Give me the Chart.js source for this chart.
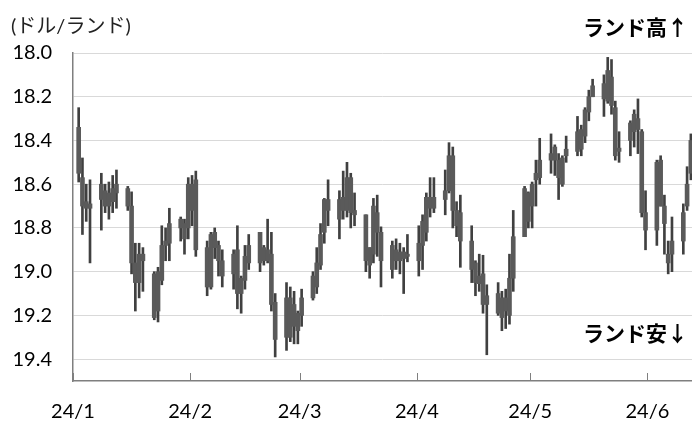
<!DOCTYPE html>
<html>
<head>
<meta charset="utf-8">
<script src="https://cdn.jsdelivr.net/npm/chart.js@4.4.1/dist/chart.umd.min.js"></script>
<style>
  body { margin: 0; background: #fff; }
  #wrap { position: relative; width: 692px; height: 424px; }
  .note { position: absolute; font-family: "Noto Sans CJK JP", sans-serif; line-height: 1; color: #000; white-space: nowrap; }
  #title { left: 11px; top: 15px; font-size: 20px; color: #222; font-family: Lato, "Noto Sans CJK JP", sans-serif; }
  #up { right: 4px; top: 16px; font-size: 21px; font-weight: bold; }
  #down { right: 4px; top: 322px; font-size: 21px; font-weight: bold; }
</style>
</head>
<body>
<div id="wrap">
  <canvas id="fxChart"></canvas>
  <div class="note" id="title">(ドル/ランド)</div>
  <div class="note" id="up">ランド高↑</div>
  <div class="note" id="down">ランド安↓</div>
</div>
<script>
// daily USD/ZAR, 2024 (month/day)
const dates = [
  "1/2","1/3","1/4","1/5","1/8","1/9","1/10","1/11","1/12","1/15","1/16","1/17","1/18","1/19","1/22","1/23","1/24","1/25","1/26","1/29","1/30","1/31",
  "2/1","2/2","2/5","2/6","2/7","2/8","2/9","2/12","2/13","2/14","2/15","2/16","2/19","2/20","2/21","2/22","2/23","2/26","2/27","2/28","2/29",
  "3/1","3/4","3/5","3/6","3/7","3/8","3/11","3/12","3/13","3/14","3/15","3/18","3/19","3/20","3/21","3/22","3/25","3/26","3/27","3/28","3/29",
  "4/1","4/2","4/3","4/4","4/5","4/8","4/9","4/10","4/11","4/12","4/15","4/16","4/17","4/18","4/19","4/22","4/23","4/24","4/25","4/26","4/29","4/30",
  "5/1","5/2","5/3","5/6","5/7","5/8","5/9","5/10","5/13","5/14","5/15","5/16","5/17","5/20","5/21","5/22","5/23","5/24","5/27","5/28","5/29","5/30","5/31",
  "6/3","6/4","6/5","6/6","6/7","6/10","6/11","6/12"
];
const lows = [
  18.25,18.48,18.60,18.58,18.55,18.60,18.59,18.56,18.535,18.61,18.635,18.87,18.87,18.89,19.00,18.98,18.79,18.80,18.71,18.75,18.76,18.57,
  18.56,18.54,18.86,18.82,18.80,18.86,18.90,18.90,18.79,19.02,18.88,18.83,18.82,18.88,18.76,18.82,19.10,19.05,19.07,19.09,19.18,
  19.08,19.00,18.89,18.78,18.665,18.58,18.63,18.54,18.50,18.55,18.64,18.74,18.89,18.665,18.65,18.795,18.86,18.85,18.87,18.89,18.83,
  18.79,18.74,18.64,18.57,18.57,18.535,18.41,18.43,18.68,18.65,18.79,18.95,18.92,18.925,19.06,19.05,19.09,19.08,18.92,18.72,18.61,18.635,
  18.59,18.49,18.39,18.37,18.42,18.46,18.47,18.38,18.29,18.33,18.25,18.17,18.12,18.10,18.02,18.03,18.22,18.36,18.31,18.26,18.21,18.35,18.63,
  18.49,18.47,18.65,18.86,18.75,18.69,18.52,18.37
];
const highs = [
  18.59,18.83,18.77,18.96,18.81,18.73,18.76,18.73,18.71,18.72,19.01,19.18,19.12,19.09,19.22,19.23,19.06,18.95,18.95,18.86,18.92,18.85,
  18.79,18.93,19.11,19.08,18.94,19.02,19.07,19.08,19.17,19.19,19.08,18.99,19.00,18.97,18.96,19.18,19.39,19.36,19.32,19.33,19.33,
  19.25,19.13,19.10,18.99,18.87,18.79,18.85,18.76,18.75,18.80,18.79,19.00,19.03,18.96,18.93,19.07,19.03,18.99,19.01,19.10,18.955,
  19.02,18.99,18.86,18.75,18.73,18.74,18.64,18.80,18.84,18.98,19.05,19.11,19.09,19.19,19.38,19.20,19.27,19.26,19.24,19.09,18.84,18.80,
  18.80,18.70,18.60,18.55,18.56,18.67,18.61,18.50,18.47,18.47,18.41,18.31,18.20,18.29,18.23,18.28,18.49,18.50,18.47,18.43,18.46,18.75,18.90,
  18.88,18.70,18.92,19.01,19.00,18.92,18.72,18.58
];
const opens = [
  18.34,18.57,18.68,18.69,18.60,18.63,18.64,18.62,18.60,18.62,18.70,18.96,18.92,18.92,19.01,19.00,18.88,18.86,18.78,18.76,18.78,18.60,
  18.60,18.58,18.89,18.83,18.82,18.88,18.95,18.92,18.90,19.03,18.93,18.88,18.82,18.89,18.90,18.92,19.14,19.12,19.12,19.15,19.19,
  19.12,19.02,18.96,18.83,18.67,18.67,18.67,18.66,18.57,18.57,18.72,18.74,18.89,18.70,18.73,18.82,18.88,18.90,18.91,18.91,18.92,
  18.87,18.77,18.66,18.66,18.66,18.63,18.47,18.47,18.72,18.73,18.86,18.96,19.02,19.01,19.11,19.10,19.12,19.12,19.03,18.84,18.62,18.64,
  18.60,18.55,18.49,18.46,18.43,18.49,18.48,18.44,18.36,18.35,18.26,18.20,18.15,18.14,18.08,18.11,18.25,18.435,18.32,18.28,18.30,18.36,18.73,
  18.50,18.49,18.70,18.92,18.86,18.73,18.60,18.40
];
const closes = [
  18.55,18.70,18.71,18.71,18.67,18.70,18.70,18.68,18.64,18.70,18.96,19.05,19.05,18.95,19.21,19.18,19.04,18.88,18.87,18.80,18.85,18.80,
  18.72,18.90,19.07,19.07,18.89,18.95,19.02,19.01,19.10,19.10,19.04,18.96,18.96,18.95,18.95,19.15,19.31,19.30,19.30,19.25,19.27,
  19.20,19.12,19.07,18.97,18.82,18.72,18.76,18.72,18.72,18.73,18.74,18.95,18.97,18.92,18.82,18.95,18.99,18.95,18.95,18.94,18.93,
  18.95,18.88,18.82,18.71,18.71,18.67,18.63,18.72,18.79,18.86,18.99,19.05,19.055,19.15,19.15,19.19,19.21,19.18,19.20,19.03,18.84,18.77,
  18.70,18.58,18.57,18.49,18.49,18.57,18.60,18.47,18.45,18.44,18.38,18.27,18.20,18.21,18.22,18.24,18.47,18.45,18.40,18.36,18.35,18.73,18.81,
  18.81,18.70,18.78,18.96,18.92,18.86,18.70,18.55
];
const monthStarts = [0, 31, 60, 91, 121, 152];
const tickLabels = ["24/1", "24/2", "24/3", "24/4", "24/5", "24/6"];
const yTicks = [18.0, 18.2, 18.4, 18.6, 18.8, 19.0, 19.2, 19.4];

function dayOf(s) {
  const [m, d] = s.split("/").map(Number);
  return monthStarts[m - 1] + d - 1 + 0.5;
}

const wickData = dates.map((s, i) => ({ x: dayOf(s), y: [lows[i], highs[i]] }));
const bodyData = dates.map((s, i) => ({ x: dayOf(s), y: [opens[i], closes[i]] }));

const innerTicks = {
  id: "innerTicks",
  afterDraw(chart) {
    const xs = chart.scales.x, ctx = chart.ctx;
    ctx.save();
    ctx.strokeStyle = "#7f7f7f";
    ctx.lineWidth = 1;
    monthStarts.forEach(v => {
      const px = Math.round(xs.getPixelForValue(v)) + 0.5;
      ctx.beginPath();
      ctx.moveTo(px, xs.top);
      ctx.lineTo(px, xs.top - 8);
      ctx.stroke();
    });
    ctx.restore();
  }
};

const font = { family: "Lato, 'Liberation Sans', sans-serif", size: 20 };

new Chart(document.getElementById("fxChart").getContext("2d"), {
  type: "bar",
  data: {
    datasets: [
      { data: wickData, backgroundColor: "#404040", barThickness: 2, grouped: false, order: 2 },
      { data: bodyData, backgroundColor: "#5a5a5a", barThickness: 4, grouped: false, order: 1 }
    ]
  },
  options: {
    responsive: true,
    maintainAspectRatio: false,
    animation: false,
    layout: { padding: { left: 0, right: 0, top: 53, bottom: 0 } },
    scales: {
      x: {
        type: "linear",
        offset: false,
        min: 0,
        max: 163.8,
        afterBuildTicks: s => { s.ticks = monthStarts.map(v => ({ value: v })); },
        afterFit: s => { s.height = 43; },
        ticks: {
          callback: v => tickLabels[monthStarts.indexOf(v)],
          color: "#000",
          font: font,
          padding: 19,
          maxRotation: 0,
          autoSkip: false
        },
        grid: { drawOnChartArea: false, drawTicks: false },
        border: { color: "#7f7f7f", width: 1.5 }
      },
      y: {
        reverse: true,
        min: 18.0,
        max: 19.5,
        afterBuildTicks: s => { s.ticks = yTicks.map(v => ({ value: v })); },
        afterFit: s => { s.width = 73; },
        ticks: {
          callback: v => v.toFixed(1),
          color: "#000",
          font: font,
          padding: 21
        },
        grid: { color: "#d9d9d9", lineWidth: 1, drawTicks: false },
        border: { color: "#7f7f7f", width: 1.5 }
      }
    },
    plugins: {
      legend: { display: false },
      tooltip: { enabled: false }
    }
  },
  plugins: [innerTicks]
});
</script>
</body>
</html>
